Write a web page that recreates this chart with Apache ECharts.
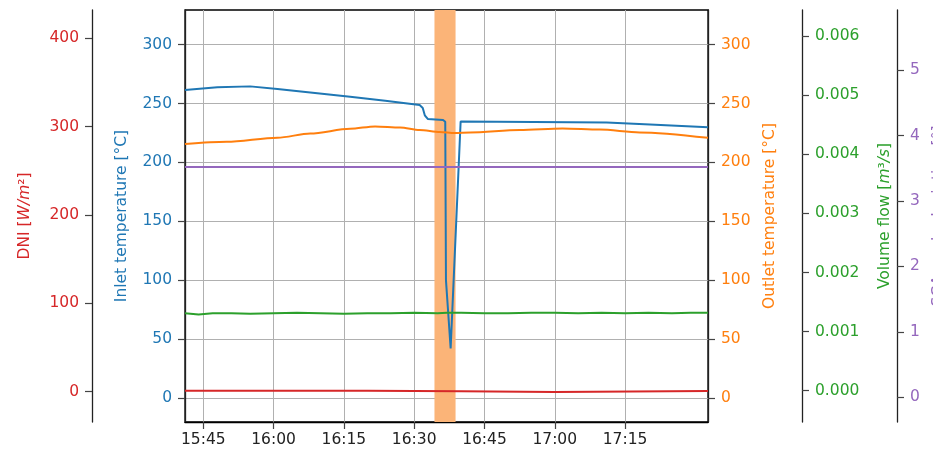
<!DOCTYPE html>
<html>
<head>
<meta charset="utf-8">
<script src="https://cdn.jsdelivr.net/npm/echarts@6/dist/echarts.min.js"></script>
<style>
  html, body { margin: 0; padding: 0; background: #fff; }
  #chart { width: 933px; height: 452px; }
</style>
</head>
<body>
<div id="chart"></div>
<script>
// time ticks on the x axis
var timeTicks = ["15:45", "16:00", "16:15", "16:30", "16:45", "17:00", "17:15"];
var timeRange = ["15:41:06", "17:32:42"];
var bandRange = ["16:34:20", "16:38:50"];

var inletTimes = ["15:41:06", "15:48:00", "15:55:00", "16:00:50", "16:07:50", "16:16:20", "16:23:50",
  "16:31:10", "16:31:50", "16:32:16", "16:32:54", "16:36:10", "16:36:38", "16:36:47", "16:37:47",
  "16:39:55", "16:40:10", "17:11:05", "17:20:20", "17:32:42"];
var inletTemp = [261.5, 263.8, 264.6, 262.3, 259.4, 255.8, 252.3,
  248.7, 246.2, 240.0, 236.9, 236.0, 234.5, 100.0, 42.0,
  234.7, 234.0, 234.0, 232.2, 229.8];

var outletTimes = ["15:41:06", "15:50:00", "16:00:50", "16:07:50", "16:16:20", "16:21:40", "16:27:00",
  "16:31:10", "16:35:30", "16:38:40", "16:41:55", "16:52:30", "17:01:40", "17:09:35", "17:18:05", "17:32:42"];
var outletTemp = [215.6, 217.5, 221.0, 224.5, 228.6, 230.6, 229.6,
  227.5, 225.8, 224.9, 225.5, 227.5, 228.9, 227.9, 225.5, 220.9];

var flowTimes = ["15:41:06", "15:44", "15:47", "15:51", "15:55", "16:00", "16:05", "16:10", "16:15",
  "16:20", "16:25", "16:30", "16:35", "16:37", "16:40", "16:45", "16:50", "16:55", "17:00",
  "17:05", "17:10", "17:15", "17:20", "17:25", "17:29", "17:32:42"];
var flowValues = [0.00131, 0.00129, 0.00131, 0.00131, 0.00130, 0.00131, 0.00132, 0.00131, 0.00130,
  0.00131, 0.00131, 0.00132, 0.00131, 0.00132, 0.00132, 0.00131, 0.00131, 0.00132, 0.00132,
  0.00131, 0.00132, 0.00131, 0.00132, 0.00131, 0.00132, 0.00132];

var dniTimes = ["15:41:06", "16:20", "16:40", "17:00", "17:32:42"];
var dniValues = [1.1, 1.0, 0.5, -0.3, 0.8];

var scaTimes = ["15:41:06", "17:32:42"];
var scaValues = [3.52, 3.52];

var inletTicks = [0, 50, 100, 150, 200, 250, 300];
var outletTicks = [0, 50, 100, 150, 200, 250, 300];
var dniTicks = [0, 100, 200, 300, 400];
var flowTicks = [0, 0.001, 0.002, 0.003, 0.004, 0.005, 0.006];
var scaTicks = [0, 1, 2, 3, 4, 5];

var FONT = "DejaVu Sans";
var FS = 15.5;

function toMin(s) {
  var p = s.split(":");
  return +p[0] * 60 + +p[1] + (p[2] ? +p[2] / 60 : 0);
}
function fmtTime(v) {
  var h = Math.floor(v / 60);
  var m = Math.round(v - h * 60);
  return h + ":" + (m < 10 ? "0" + m : m);
}
function pairs(times, vals) {
  return times.map(function (t, i) { return [toMin(t), vals[i]]; });
}

function yAx(o) {
  return {
    type: "value",
    position: o.pos,
    offset: o.offset,
    min: o.min,
    max: o.max,
    name: o.name,
    nameLocation: "middle",
    nameGap: o.gap,
    nameRotate: 90,
    nameTextStyle: {
      color: o.color, fontFamily: FONT, fontSize: FS,
      rich: {
        a: { color: o.color, fontFamily: FONT, fontSize: FS },
        i: { color: o.color, fontFamily: FONT, fontSize: FS, fontStyle: "italic" }
      }
    },
    axisLine: { show: true, onZero: false, lineStyle: { color: "#222", width: 1.3 } },
    axisTick: { show: true, customValues: o.ticks, length: 7, lineStyle: { color: "#444", width: 1.2 } },
    axisLabel: {
      customValues: o.ticks, color: o.color, fontFamily: FONT, fontSize: FS, margin: 13,
      formatter: o.fmt
    },
    splitLine: { show: !!o.split, lineStyle: { color: "#b0b0b0", width: 1 } }
  };
}

var chart = echarts.init(document.getElementById("chart"));
var option = {
  animation: false,
  backgroundColor: "#fff",
  grid: {
    left: 185, right: 225, top: 10, bottom: 30, outerBoundsMode: "none",
    show: true, borderColor: "#000", borderWidth: 1.3
  },
  xAxis: {
    type: "value",
    min: toMin(timeRange[0]),
    max: toMin(timeRange[1]),
    axisLine: { show: true, onZero: false, lineStyle: { color: "#000", width: 1.3 } },
    axisTick: { show: true, customValues: timeTicks.map(toMin), length: 7, lineStyle: { color: "#444", width: 1.2 } },
    axisLabel: {
      customValues: timeTicks.map(toMin), color: "#222", fontFamily: FONT, fontSize: FS, margin: 10,
      formatter: fmtTime
    },
    splitLine: { show: true, lineStyle: { color: "#b0b0b0", width: 1 } }
  },
  yAxis: [
    yAx({ pos: "left", offset: 0, min: -20.6, max: 329.5, ticks: inletTicks, color: "#1f77b4",
      name: "Inlet temperature [°C]", gap: 55, split: true }),
    yAx({ pos: "left", offset: 93, min: -34.3, max: 432, ticks: dniTicks, color: "#d62728",
      name: "{a|DNI [}{i|W/m}{a|²]}", gap: 59 }),
    yAx({ pos: "right", offset: 0, min: -20.6, max: 329.5, ticks: outletTicks, color: "#ff7f0e",
      name: "Outlet temperature [°C]", gap: 52 }),
    yAx({ pos: "right", offset: 94, min: -0.000529, max: 0.00644, ticks: flowTicks, color: "#2ca02c",
      name: "{a|Volume flow [}{i|m}{a|³}{i|/s}{a|]}", gap: 75,
      fmt: function (v) { return v.toFixed(3); } }),
    yAx({ pos: "right", offset: 189, min: -0.377, max: 5.917, ticks: scaTicks, color: "#9467bd",
      name: "SCA angle deviation [°]", gap: 30 })
  ],
  series: [
    {
      name: "band", type: "line", yAxisIndex: 0, data: [], z: -1, silent: true,
      markArea: {
        silent: true,
        itemStyle: { color: "#fbb478", opacity: 1 },
        data: [[{ xAxis: toMin(bandRange[0]) }, { xAxis: toMin(bandRange[1]) }]]
      }
    },
    { name: "DNI", type: "line", yAxisIndex: 1, data: pairs(dniTimes, dniValues), showSymbol: false, z: 3,
      lineStyle: { color: "#d62728", width: 2 } },
    { name: "Inlet", type: "line", yAxisIndex: 0, data: pairs(inletTimes, inletTemp), showSymbol: false, z: 3,
      lineStyle: { color: "#1f77b4", width: 2 } },
    { name: "Outlet", type: "line", yAxisIndex: 2, data: pairs(outletTimes, outletTemp), showSymbol: false, z: 3,
      smooth: 0.3, smoothMonotone: "x", lineStyle: { color: "#ff7f0e", width: 2 } },
    { name: "Flow", type: "line", yAxisIndex: 3, data: pairs(flowTimes, flowValues), showSymbol: false, z: 3,
      lineStyle: { color: "#2ca02c", width: 2 } },
    { name: "SCA", type: "line", yAxisIndex: 4, data: pairs(scaTimes, scaValues), showSymbol: false, z: 3,
      lineStyle: { color: "#9467bd", width: 2 } }
  ]
};
chart.setOption(option);
</script>
</body>
</html>
